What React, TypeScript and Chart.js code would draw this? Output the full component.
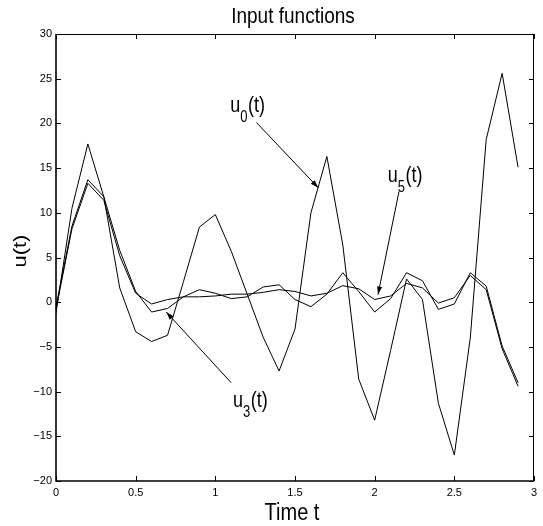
import React, { useEffect, useRef } from "react";
import { Chart, registerables } from "chart.js";

Chart.register(...registerables);

// ---- data ----
const tValues = [0, 0.1, 0.2, 0.3, 0.4, 0.5, 0.6, 0.7, 0.8, 0.9, 1.0, 1.1, 1.2, 1.3, 1.4, 1.5, 1.6, 1.7, 1.8, 1.9, 2.0, 2.1, 2.2, 2.3, 2.4, 2.5, 2.6, 2.7, 2.8, 2.9];
const u0Values = [-1.2, 10.5, 17.7, 11.8, 1.6, -3.3, -4.4, -3.7, 2.3, 8.4, 9.8, 5.7, 0.9, -3.9, -7.7, -3.0, 10.0, 16.3, 6.4, -8.6, -13.2, -5.4, 2.6, 0.3, -11.3, -17.1, -4.0, 18.2, 25.6, 15.1];
const u3Values = [-0.5, 8.5, 13.7, 11.8, 5.8, 1.2, -1.1, -0.7, 0.6, 1.4, 1.0, 0.4, 0.6, 1.7, 1.95, 0.3, -0.5, 0.9, 3.3, 1.2, -1.1, 0.4, 3.3, 2.4, -0.8, -0.2, 3.3, 1.8, -4.9, -9.0];
const u5Values = [-0.8, 8.2, 13.3, 11.4, 5.2, 1.0, -0.2, 0.3, 0.6, 0.6, 0.7, 0.9, 0.9, 1.1, 1.4, 1.2, 0.7, 1.0, 1.85, 1.5, 0.3, 0.7, 2.1, 1.6, -0.1, 0.5, 3.0, 1.4, -5.2, -9.4];

const xTickValues = [0, 0.5, 1, 1.5, 2, 2.5, 3];
const xTickLabels = ["0", "0.5", "1", "1.5", "2", "2.5", "3"];
const yTickValues = [-20, -15, -10, -5, 0, 5, 10, 15, 20, 25, 30];
const yTickLabels = ["\u221220", "\u221215", "\u221210", "\u22125", "0", "5", "10", "15", "20", "25", "30"];

const titleText = "Input functions";
const xAxisLabel = "Time t";
const yAxisLabel = "u(t)";

// annotation labels (data coordinates: label anchor, arrow tail, arrow tip)
const annotationNames = ["u", "u", "u"];
const annotationSubs = ["0", "5", "3"];
const annotationTails = ["(t)", "(t)", "(t)"];
const annotationLabelAt = [[1.094, 21.3], [2.082, 13.5], [1.111, -11.7]];
const annotationFrom = [[1.258, 20.1], [2.153, 12.4], [1.099, -9.0]];
const annotationTo = [[1.646, 12.8], [2.021, 0.85], [0.692, -1.1]];

const FONT = '"Liberation Sans", Arial, Helvetica, sans-serif';
const STRETCH = 1.15;

function drawText(ctx: CanvasRenderingContext2D, text: string, x: number, y: number, size: number, align: CanvasTextAlign, baseline: CanvasTextBaseline, rotate = false, stretch = STRETCH) {
  ctx.save();
  ctx.translate(x, y);
  if (rotate) {
    ctx.rotate(-Math.PI / 2);
    ctx.scale(stretch, 1);
  } else {
    ctx.scale(1, stretch);
  }
  ctx.font = `${size}px ${FONT}`;
  ctx.textAlign = align;
  ctx.textBaseline = baseline;
  ctx.fillStyle = "#000";
  ctx.fillText(text, 0, 0);
  ctx.restore();
}

const decorPlugin = {
  id: "decor",
  afterDraw(chart: any) {
    const ctx: CanvasRenderingContext2D = chart.ctx;
    const a = chart.chartArea;
    const xs = chart.scales.x;
    const ys = chart.scales.y;
    ctx.save();
    ctx.strokeStyle = "#000";
    ctx.fillStyle = "#000";
    // box
    ctx.lineWidth = 1;
    ctx.beginPath();
    ctx.moveTo(a.left, a.top + 0.5);
    ctx.lineTo(a.right, a.top + 0.5);
    ctx.moveTo(a.right - 0.5, a.top);
    ctx.lineTo(a.right - 0.5, a.bottom);
    ctx.stroke();
    ctx.lineWidth = 1.6;
    ctx.beginPath();
    ctx.moveTo(a.left, a.top);
    ctx.lineTo(a.left, a.bottom);
    ctx.lineTo(a.right, a.bottom);
    ctx.stroke();
    // inward ticks
    ctx.lineWidth = 1;
    ctx.beginPath();
    for (const v of xTickValues) {
      const px = Math.round(xs.getPixelForValue(v)) + 0.5;
      ctx.moveTo(px, a.bottom);
      ctx.lineTo(px, a.bottom - 5);
      ctx.moveTo(px, a.top);
      ctx.lineTo(px, a.top + 5);
    }
    for (const v of yTickValues) {
      const py = Math.round(ys.getPixelForValue(v)) + 0.5;
      ctx.moveTo(a.left, py);
      ctx.lineTo(a.left + 5, py);
      ctx.moveTo(a.right, py);
      ctx.lineTo(a.right - 5, py);
    }
    ctx.stroke();

    // title and axis labels
    const cx = (a.left + a.right) / 2;
    drawText(ctx, titleText, cx - 2, 23, 19, "center", "alphabetic");
    drawText(ctx, xAxisLabel, cx - 3, 520, 20, "center", "alphabetic");
    drawText(ctx, yAxisLabel, 21, 251, 19, "center", "middle", true);

    // annotations
    for (let i = 0; i < annotationNames.length; i++) {
      const lx = xs.getPixelForValue(annotationLabelAt[i][0]);
      const ly = ys.getPixelForValue(annotationLabelAt[i][1]);
      ctx.save();
      ctx.font = `18px ${FONT}`;
      const w1 = ctx.measureText(annotationNames[i]).width;
      ctx.font = `13px ${FONT}`;
      const w2 = ctx.measureText(annotationSubs[i]).width;
      ctx.restore();
      drawText(ctx, annotationNames[i], lx, ly, 18, "left", "alphabetic", false, 1.2);
      drawText(ctx, annotationSubs[i], lx + w1, ly + 10, 13, "left", "alphabetic", false, 1.2);
      drawText(ctx, annotationTails[i], lx + w1 + w2 + 0.5, ly, 18, "left", "alphabetic", false, 1.2);

      const x1 = xs.getPixelForValue(annotationFrom[i][0]);
      const y1 = ys.getPixelForValue(annotationFrom[i][1]);
      const x2 = xs.getPixelForValue(annotationTo[i][0]);
      const y2 = ys.getPixelForValue(annotationTo[i][1]);
      ctx.lineWidth = 1;
      ctx.beginPath();
      ctx.moveTo(x1, y1);
      ctx.lineTo(x2, y2);
      ctx.stroke();
      const ang = Math.atan2(y2 - y1, x2 - x1);
      const L = 8, W = 2.6;
      const bx = x2 - L * Math.cos(ang);
      const by = y2 - L * Math.sin(ang);
      ctx.beginPath();
      ctx.moveTo(x2, y2);
      ctx.lineTo(bx + W * Math.sin(ang), by - W * Math.cos(ang));
      ctx.lineTo(bx - W * Math.sin(ang), by + W * Math.cos(ang));
      ctx.closePath();
      ctx.fill();
    }
    ctx.restore();
  },
};

function toPoints(vals: number[]) {
  return tValues.map((t, i) => ({ x: t, y: vals[i] }));
}

export default function App() {
  const ref = useRef<HTMLCanvasElement | null>(null);
  useEffect(() => {
    if (!ref.current) return;
    const lineStyle = {
      borderColor: "#000",
      borderWidth: 1,
      pointRadius: 0,
      tension: 0,
      fill: false,
    };
    const chart = new Chart(ref.current, {
      type: "line",
      data: {
        datasets: [
          { label: "u0(t)", data: toPoints(u0Values), ...lineStyle },
          { label: "u3(t)", data: toPoints(u3Values), ...lineStyle },
          { label: "u5(t)", data: toPoints(u5Values), ...lineStyle },
        ],
      },
      options: {
        responsive: false,
        animation: false,
        devicePixelRatio: 1,
        layout: { padding: { top: 34, right: 9, left: 0, bottom: 0 } },
        plugins: { legend: { display: false }, title: { display: false }, tooltip: { enabled: false } },
        scales: {
          x: {
            type: "linear",
            min: 0,
            max: 3,
            afterBuildTicks: (s: any) => {
              s.ticks = xTickValues.map((v) => ({ value: v }));
            },
            afterFit: (s: any) => {
              s.height = 45;
            },
            grid: { display: false, drawTicks: false },
            border: { display: false },
            ticks: {
              callback: (_v: any, i: number) => xTickLabels[i],
              font: { size: 11, family: FONT },
              color: "#000",
              padding: 5,
              maxRotation: 0,
              autoSkip: false,
            },
          },
          y: {
            type: "linear",
            min: -20,
            max: 30,
            afterBuildTicks: (s: any) => {
              s.ticks = yTickValues.map((v) => ({ value: v }));
            },
            afterFit: (s: any) => {
              s.width = 56;
            },
            grid: { display: false, drawTicks: false },
            border: { display: false },
            ticks: {
              callback: (_v: any, i: number) => yTickLabels[i],
              font: { size: 11, family: FONT },
              color: "#000",
              padding: 4,
              autoSkip: false,
            },
          },
        },
      },
      plugins: [decorPlugin],
    } as any);
    return () => chart.destroy();
  }, []);
  return (
    <div style={{ position: "absolute", left: 0, top: 0, width: 543, height: 526, background: "#fff" }}>
      <canvas ref={ref} width={543} height={526} style={{ display: "block" }} />
    </div>
  );
}
